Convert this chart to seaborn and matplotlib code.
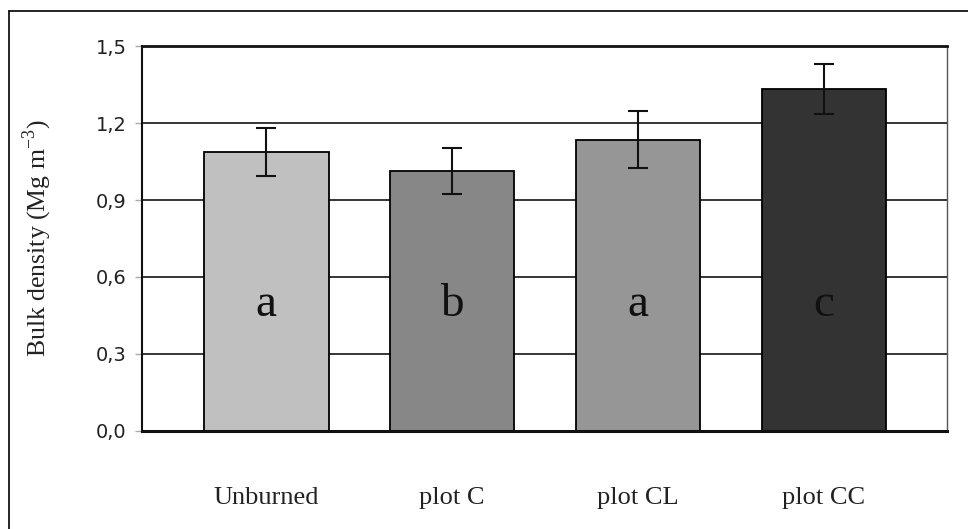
"""Bulk density by plot, grey bars with error bars and significance letters."""

import matplotlib

matplotlib.use("Agg")
import matplotlib.pyplot as plt
import pandas as pd
import seaborn as sns
from matplotlib.lines import Line2D

# data
PLOTS = ["Unburned", "plot C", "plot CL", "plot CC"]
DENSITY = [1.088, 1.013, 1.134, 1.333]
ERR = [0.093, 0.089, 0.111, 0.098]
LETTERS = ["a", "b", "a", "c"]
Y_TICKS = [0.0, 0.3, 0.6, 0.9, 1.2, 1.5]
Y_TICK_LABELS = ["0,0", "0,3", "0,6", "0,9", "1,2", "1,5"]

BAR_COLORS = ["#c0c0c0", "#878787", "#969696", "#333333"]
SERIF = ["Liberation Serif", "DejaVu Serif"]


def main() -> None:
    sns.set_theme(style="white")
    plt.rcParams["font.family"] = ["DejaVu Sans"]

    df = pd.DataFrame({"plot": PLOTS, "density": DENSITY})

    fig = plt.figure(figsize=(9.68, 5.29), dpi=100)
    ax = fig.add_axes([0.1464, 0.1853, 0.8316, 0.7277])

    for y in Y_TICKS[1:]:
        ax.axhline(y, color="black", lw=1.1, zorder=0)

    sns.barplot(
        data=df, x="plot", y="density", hue="plot", palette=BAR_COLORS,
        legend=False, width=0.67, edgecolor="black", linewidth=1.3,
        errorbar=None, ax=ax, zorder=2,
    )
    ax.errorbar(
        range(len(PLOTS)), DENSITY, yerr=ERR, fmt="none", ecolor="#111111",
        elinewidth=1.5, capsize=7, capthick=1.5, zorder=3,
    )
    for i, lab in enumerate(LETTERS):
        ax.text(i, 0.49, lab, ha="center", va="center", fontsize=34,
                family=SERIF, color="#111111", zorder=4)

    ax.set_xlim(-0.67, 3.66)
    ax.set_ylim(0, 1.5)
    ax.set_yticks(Y_TICKS)
    ax.set_yticklabels(Y_TICK_LABELS, fontsize=14, color="#222222")
    ax.set_xlabel("")
    ax.set_ylabel("Bulk density (Mg m$^{\\mathregular{-3}}$)", family=SERIF,
                  fontsize=18.5, color="#222222", labelpad=30)
    for t in ax.get_xticklabels():
        t.set_family(SERIF)
        t.set_fontsize(19)
        t.set_color("#222222")
    ax.tick_params(axis="x", length=0, pad=40)
    ax.tick_params(axis="y", length=5, width=1, color="#aaaaaa", left=True,
                   pad=6)

    ax.spines["top"].set_linewidth(2)
    ax.spines["top"].set_color("#111111")
    ax.spines["bottom"].set_linewidth(2.2)
    ax.spines["bottom"].set_color("#111111")
    ax.spines["left"].set_linewidth(1.5)
    ax.spines["left"].set_color("#111111")
    ax.spines["right"].set_linewidth(1)
    ax.spines["right"].set_color("#555555")

    # outer frame, cut off at right and bottom like the scan
    fig.add_artist(Line2D([0.0093, 0.0093], [0.0, 0.979], color="black",
                          lw=1.2, transform=fig.transFigure))
    fig.add_artist(Line2D([0.0093, 1.0], [0.979, 0.979], color="black",
                          lw=1.2, transform=fig.transFigure))

    fig.savefig("out.png", dpi=100)
    plt.close(fig)


if __name__ == "__main__":
    main()
